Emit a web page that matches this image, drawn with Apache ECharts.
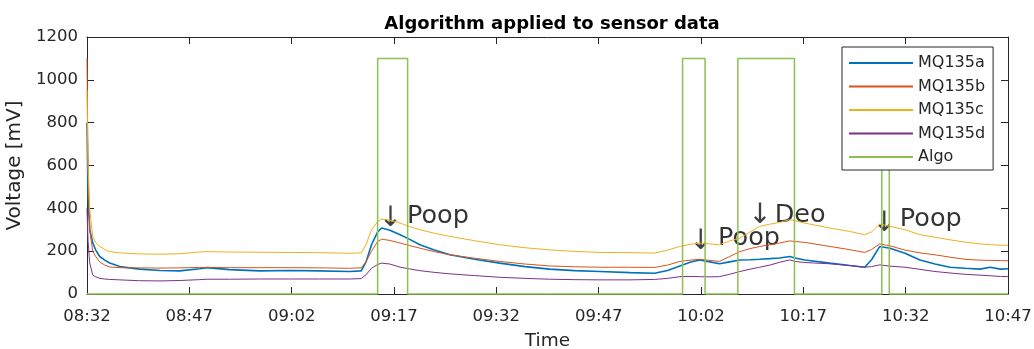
<!DOCTYPE html>
<html>
<head>
<meta charset="utf-8">
<script src="https://cdn.jsdelivr.net/npm/echarts@6/dist/echarts.min.js"></script>
<style>
html,body{margin:0;padding:0;background:#fff;}
#chart{width:1034px;height:349px;}
</style>
</head>
<body>
<div id="chart"></div>
<script>
// minutes after 08:32
var times = [0,0.15,0.4,0.84,1.28,1.86,2.6,3.33,4.8,7.7,
  10.7,13.6,16.5,17.6,20.9,25.3,29.7,34.1,38.5,40.2,
  40.9,41.7,42.6,43.2,44.4,45.9,47.3,48.8,50.9,53.2,
  56.8,60.5,64.2,67.8,71.5,75.2,79.6,83.2,85.1,86.9,
  88.4,89.8,91.3,92.7,94.2,95.7,97.2,98.6,100.1,101.5,
  103.0,103.8,105.2,108.9,111.8,114.0,115.0,116.2,117.7,119.9,
  122.1,124.3,126.5,128.7,130.9,132.4,133.9,135];
var mq135a = [800,450,300,239,205,175,158,145,128,116,
  110,108,118,123,114,108,110,108,105,108,
  150,230,290,308,298,277,255,230,205,183,
  162,144,128,116,109,105,100,97,110,131,
  148,159,150,141,150,159,160,162,165,168,
  175,168,159,144,133,125,160,222,214,190,
  159,140,125,120,116,125,116,118];
var mq135b = [1100,600,300,200,175,150,135,126,123,122,
  121,122,124,124,123,123,123,122,120,122,
  150,200,245,256,250,238,226,214,198,183,
  167,152,140,131,127,125,125,124,135,152,
  158,162,157,152,175,198,212,222,230,238,
  248,245,241,222,207,194,208,234,225,205,
  192,183,172,162,158,157,156,155];
var mq135c = [950,600,394,269,240,222,208,198,192,187,
  186,188,196,198,196,195,194,193,190,192,
  230,300,338,350,345,331,315,300,284,269,
  249,230,216,206,199,194,193,191,205,222,
  232,238,234,230,248,261,290,316,326,334,
  347,342,331,308,292,277,290,327,316,300,
  277,265,253,242,234,230,228,227];
var mq135d = [400,250,145,89,80,73,70,68,66,62,
  61,63,67,69,69,70,70,70,70,72,
  90,120,138,144,140,125,117,109,101,94,
  86,78,73,69,67,66,66,68,73,81,
  82,81,80,81,92,105,116,125,135,148,
  159,152,147,141,133,125,128,136,130,125,
  115,105,98,92,88,85,82,81];
var algoTimes = [0,42.6,42.6,47.0,47.0,87.3,87.3,90.6,90.6,95.4,95.4,103.7,103.7,116.5,116.5,117.6,117.6,135];
var algoValues = [0,0,1100,1100,0,0,1100,1100,0,0,1100,1100,0,0,1100,1100,0,0];

var arrowX = [44.5, 89.95, 98.65, 116.85];
var arrowY = [350, 242, 365, 330];
var noteX = [46.9, 92.5, 100.8, 119.15];
var noteY = [362, 258, 367, 347];
var noteText = ['Poop', 'Poop', 'Deo', 'Poop'];

var seriesNames = ['MQ135a','MQ135b','MQ135c','MQ135d','Algo'];
var yTicks = [0,200,400,600,800,1000,1200];
var startMinutes = 8*60+32;

function pairs(xs, ys){ return xs.map(function(x,i){ return [x, ys[i]]; }); }
function fmtTime(m){
  var t = Math.round(startMinutes + m);
  var h = Math.floor(t/60), mm = t%60;
  return (h<10?'0':'')+h+':'+(mm<10?'0':'')+mm;
}

var FONT = 'DejaVu Sans';
var AX = '#262626';
var chart = echarts.init(document.getElementById('chart'), null, {renderer:'canvas'});
var axisCommon = {
  axisLine:{show:true, onZero:false, lineStyle:{color:AX, width:1}},
  axisTick:{show:true, inside:true, length:7, lineStyle:{color:AX, width:1}},
  splitLine:{show:false}
};
function lineSeries(name, data, color, width){
  return {name:name, type:'line', data:data, symbol:'none', showSymbol:false,
    lineStyle:{color:color, width:width}, itemStyle:{color:color},
    animation:false, silent:true};
}
var option = {
  backgroundColor:'#fff',
  animation:false,
  title:{text:'Algorithm applied to sensor data', left:547, textAlign:'center', top:10,
    textStyle:{fontFamily:FONT, fontWeight:'bold', fontSize:18, color:'#000'}},
  grid:{left:87, right:26, top:37, bottom:55, containLabel:false, outerBoundsMode:'none'},
  legend:{data:seriesNames, orient:'vertical', left:842, top:47,
    padding:[8,8,5,7], itemGap:7.5, itemWidth:64, itemHeight:2, icon:'rect',
    backgroundColor:'#fff', borderColor:AX, borderWidth:1,
    textStyle:{fontFamily:FONT, fontSize:16, color:AX, lineHeight:16}},
  xAxis:[
    Object.assign({type:'value', min:0, max:135, interval:15, position:'bottom',
      name:'Time', nameLocation:'middle', nameGap:38,
      nameTextStyle:{fontFamily:FONT, fontSize:18.5, color:AX},
      axisLabel:{formatter:fmtTime, fontFamily:FONT, fontSize:16.5, color:AX, margin:14,
        showMinLabel:true, showMaxLabel:true}}, axisCommon),
    Object.assign({type:'value', min:0, max:135, interval:15, position:'top',
      axisLabel:{show:false}}, axisCommon)
  ],
  yAxis:[
    Object.assign({type:'value', min:yTicks[0], max:yTicks[yTicks.length-1], interval:200, position:'left',
      name:'Voltage [mV]', nameLocation:'middle', nameGap:52,
      nameTextStyle:{fontFamily:FONT, fontSize:20, color:AX},
      axisLabel:{fontFamily:FONT, fontSize:16.5, color:AX, margin:9,
        formatter:function(v){return String(v);}}}, axisCommon),
    Object.assign({type:'value', min:yTicks[0], max:yTicks[yTicks.length-1], interval:200, position:'right',
      axisLabel:{show:false}}, axisCommon)
  ],
  series:[
    lineSeries('MQ135a', pairs(times, mq135a), '#0072BD', 1.6),
    lineSeries('MQ135b', pairs(times, mq135b), '#D95319', 1),
    lineSeries('MQ135c', pairs(times, mq135c), '#EDB120', 1),
    lineSeries('MQ135d', pairs(times, mq135d), '#7E2F8E', 1),
    Object.assign(lineSeries('Algo', pairs(algoTimes, algoValues), '#8cc152', 1.5), {clip:false}),
    {type:'scatter', name:'arrows', data:pairs(arrowX, arrowY), symbolSize:0, silent:true,
      label:{show:true, position:'inside', formatter:'\u2193', fontFamily:FONT, fontSize:28, color:'#111'}},
    {type:'scatter', name:'notes', data:noteX.map(function(x,i){return [x, noteY[i], noteText[i]];}),
      symbolSize:0, silent:true,
      label:{show:true, position:'right', distance:0, formatter:function(p){return p.data[2];},
        fontFamily:FONT, fontSize:25.5, color:'#000'}}
  ]
};
chart.setOption(option);
</script>
</body>
</html>
